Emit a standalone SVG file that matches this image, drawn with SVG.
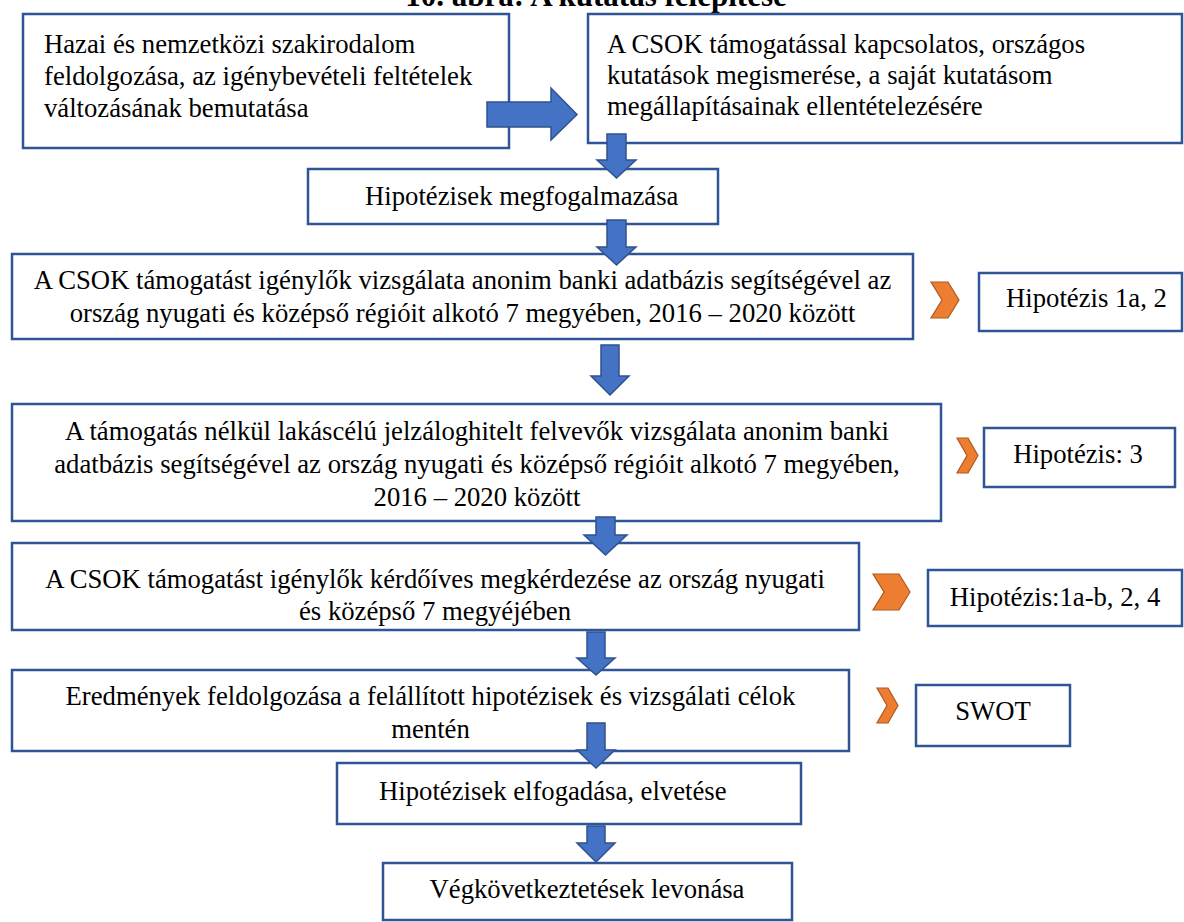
<svg xmlns="http://www.w3.org/2000/svg" width="1184" height="922" viewBox="0 0 1184 922">
<style>
.box{fill:#fff;stroke:#2F5597;stroke-width:2.5}
.t{font-family:"Liberation Serif","Times New Roman",serif;font-size:26.7px;fill:#000}
.m{text-anchor:middle}
.title{font-family:"Liberation Serif","Times New Roman",serif;font-size:31px;font-weight:bold;text-anchor:middle;fill:#000}
.arr{fill:#4472C4;stroke:#2F528F;stroke-width:1.5;stroke-linejoin:miter}
.chev{fill:#ED7D31;stroke:#AE5A21;stroke-width:1.2}
</style>
<rect width="1184" height="922" fill="#fff"/>
<text class="title" x="596" y="6">10. ábra: A kutatás felépítése</text>

<g id="n1"><rect class="box" x="23" y="14" width="486" height="134"/>
<text class="t" x="44" y="53">Hazai és nemzetközi szakirodalom</text>
<text class="t" x="44" y="85">feldolgozása, az igénybevételi feltételek</text>
<text class="t" x="44" y="117">változásának bemutatása</text></g>

<g id="n2"><rect class="box" x="588" y="14" width="594" height="129"/>
<text class="t" x="607" y="53">A CSOK támogatással kapcsolatos, országos</text>
<text class="t" x="607" y="84">kutatások megismerése, a saját kutatásom</text>
<text class="t" x="607" y="115">megállapításainak ellentételezésére</text></g>

<g id="n3"><rect class="box" x="308" y="169" width="410" height="55"/>
<text class="t" x="365" y="205">Hipotézisek megfogalmazása</text></g>

<g id="n4"><rect class="box" x="12" y="254" width="901" height="85"/>
<text class="t m" x="462.5" y="289">A CSOK támogatást igénylők vizsgálata anonim banki adatbázis segítségével az</text>
<text class="t m" x="462.5" y="322">ország nyugati és középső régióit alkotó 7 megyében, 2016 – 2020 között</text></g>

<g id="n5"><rect class="box" x="12" y="404" width="929" height="117"/>
<text class="t m" x="477" y="440">A támogatás nélkül lakáscélú jelzáloghitelt felvevők vizsgálata anonim banki</text>
<text class="t m" x="477" y="473">adatbázis segítségével az ország nyugati és középső régióit alkotó 7 megyében,</text>
<text class="t m" x="477" y="506">2016 – 2020 között</text></g>

<g id="n6"><rect class="box" x="12" y="543" width="847" height="87"/>
<text class="t m" x="435" y="588">A CSOK támogatást igénylők kérdőíves megkérdezése az ország nyugati</text>
<text class="t m" x="435" y="620">és középső 7 megyéjében</text></g>

<g id="n7"><rect class="box" x="12" y="670" width="837" height="81"/>
<text class="t m" x="430.5" y="705">Eredmények feldolgozása a felállított hipotézisek és vizsgálati célok</text>
<text class="t m" x="430.5" y="738">mentén</text></g>

<g id="n8"><rect class="box" x="337" y="763" width="464" height="61"/>
<text class="t" x="379" y="800">Hipotézisek elfogadása, elvetése</text></g>

<g id="n9"><rect class="box" x="383" y="863" width="409" height="57"/>
<text class="t m" x="587" y="898">Végkövetkeztetések levonása</text></g>

<g id="h1"><rect class="box" x="979" y="273" width="203" height="58"/>
<text class="t" x="1006" y="307">Hipotézis 1a, 2</text></g>

<g id="h3"><rect class="box" x="984" y="428" width="191" height="59"/>
<text class="t m" x="1078" y="463">Hipotézis: 3</text></g>

<g id="h4"><rect class="box" x="928" y="570" width="254" height="56"/>
<text class="t m" x="1055" y="606">Hipotézis:1a-b, 2, 4</text></g>

<g id="swot"><rect class="box" x="916" y="685" width="154" height="61"/>
<text class="t m" x="993" y="720">SWOT</text></g>

<g id="connectors">
<path class="arr" d="M487,102 H551 V88 L577,114.5 L551,140 V127 H487 Z"/>
<path class="arr" d="M607,134 H626 V160 H636 L616.5,178 L597,160 H607 Z"/>
<path class="arr" d="M607,220 H626 V247 H636 L616.5,265 L597,247 H607 Z"/>
<path class="arr" d="M601,345 H619 V376 H629 L610,395 L591,376 H601 Z"/>
<path class="arr" d="M596,517 H615 V535 H627 L605.5,555 L584,535 H596 Z"/>
<path class="arr" d="M587,632 H605 V658 H615 L596,675 L577,658 H587 Z"/>
<path class="arr" d="M587,723 H605 V750 H615 L596,768 L577,750 H587 Z"/>
<path class="arr" d="M587,826 H605 V843 H615 L596,862 L577,843 H587 Z"/>
<path class="chev" d="M931,282 H948 L959,300 L948,318 H931 L942,300 Z"/>
<path class="chev" d="M957,438 H968 L978,455.5 L968,473 H957 L967,455.5 Z"/>
<path class="chev" d="M873,574 H899 L910,592 L899,610 H873 L884,592 Z"/>
<path class="chev" d="M877,688 H888 L898,705.5 L888,723 H877 L887,705.5 Z"/>
</g>
</svg>
